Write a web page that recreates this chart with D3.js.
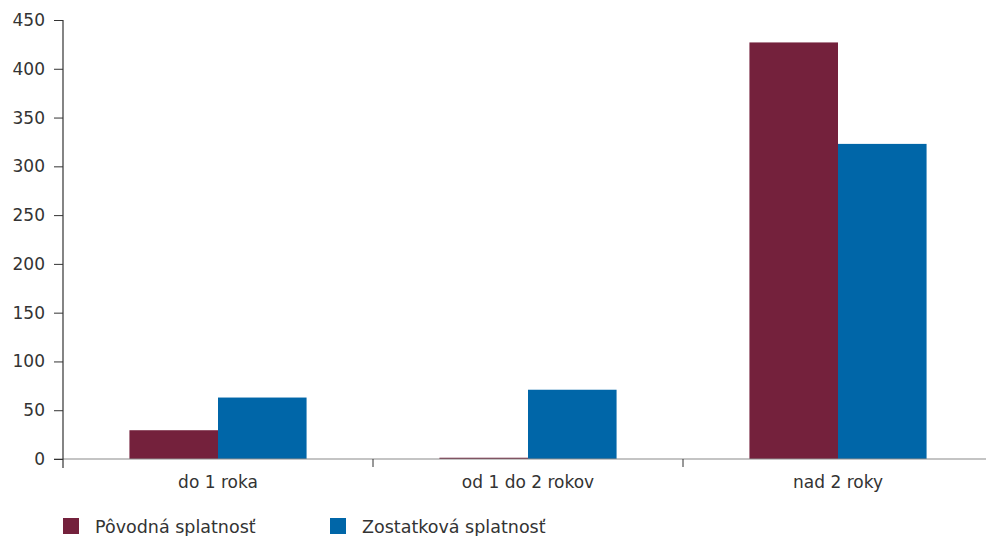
<!DOCTYPE html>
<html>
<head>
<meta charset="utf-8">
<script src="https://cdn.jsdelivr.net/npm/d3@7"></script>
<style>
  body { margin: 0; background: #fff; }
  svg text { font-family: "DejaVu Sans", sans-serif; fill: #333; }
</style>
</head>
<body>
<script>
const categories = ['do 1 roka', 'od 1 do 2 rokov', 'nad 2 roky'];
const seriesNames = ['Pôvodná splatnosť', 'Zostatková splatnosť'];
const povodna = [29.5, 1.3, 427];
const zostatkova = [63, 71, 323];
const yTicks = [0, 50, 100, 150, 200, 250, 300, 350, 400, 450];
const colors = ['#74213c', '#0066a8'];

const width = 986;
const height = 536;
const margin = { top: 20, right: -7, bottom: 77, left: 63 };

const svg = d3.select('body')
  .append('svg')
  .attr('width', width)
  .attr('height', height);

const x0 = d3.scaleBand()
  .domain(categories)
  .range([margin.left, width - margin.right])
  .padding(0);

const x1 = d3.scaleBand()
  .domain(seriesNames)
  .range([0, x0.bandwidth()])
  .paddingInner(0)
  .paddingOuter(0.75);

const y = d3.scaleLinear()
  .domain([0, 450])
  .range([height - margin.bottom, margin.top]);

// Bars
const rows = categories.map((c, i) => ({ cat: c, values: [povodna[i], zostatkova[i]] }));

svg.append('g')
  .selectAll('g')
  .data(rows)
  .enter()
  .append('g')
  .attr('transform', d => `translate(${x0(d.cat)},0)`)
  .selectAll('rect')
  .data(d => d.values.map((v, i) => ({ name: seriesNames[i], value: v, i })))
  .enter()
  .append('rect')
  .attr('x', d => x1(d.name))
  .attr('y', d => y(d.value))
  .attr('width', x1.bandwidth())
  .attr('height', d => y(0) - y(d.value))
  .style('fill', d => colors[d.i]);

// X axis baseline
svg.append('line')
  .attr('x1', margin.left - 9)
  .attr('x2', width)
  .attr('y1', y(0))
  .attr('y2', y(0))
  .style('stroke', '#8a8a8a')
  .style('stroke-width', 1.2);

// Category ticks between groups
svg.append('g')
  .selectAll('line')
  .data(categories.slice(1))
  .enter()
  .append('line')
  .attr('x1', d => x0(d))
  .attr('x2', d => x0(d))
  .attr('y1', y(0))
  .attr('y2', y(0) + 8)
  .style('stroke', '#333')
  .style('stroke-width', 1);

// Category labels
svg.append('g')
  .selectAll('text')
  .data(categories)
  .enter()
  .append('text')
  .attr('x', d => x0(d) + x0.bandwidth() / 2)
  .attr('y', y(0) + 29)
  .attr('text-anchor', 'middle')
  .style('font-size', '17px')
  .text(d => d);

// Y axis
const yAxis = d3.axisLeft(y)
  .tickValues(yTicks)
  .tickSize(9)
  .tickPadding(9);

const gy = svg.append('g')
  .attr('transform', `translate(${margin.left}, 0)`)
  .call(yAxis);

gy.select('.domain').remove();
gy.selectAll('.tick line').style('stroke', '#333');
gy.selectAll('.tick text')
  .style('font-size', '17px')
  .style('font-family', '"DejaVu Sans", sans-serif')
  .style('fill', '#333');

svg.append('line')
  .attr('x1', margin.left)
  .attr('x2', margin.left)
  .attr('y1', margin.top)
  .attr('y2', y(0) + 9)
  .style('stroke', '#333')
  .style('stroke-width', 1.2);

// Legend
const legX = [63, 330];
const leg = svg.append('g');
seriesNames.forEach((name, i) => {
  leg.append('rect')
    .attr('x', legX[i])
    .attr('y', 518)
    .attr('width', 16)
    .attr('height', 16)
    .style('fill', colors[i]);
  leg.append('text')
    .attr('x', legX[i] + 32)
    .attr('y', 533)
    .style('font-size', '17.5px')
    .text(name);
});
</script>
</body>
</html>
